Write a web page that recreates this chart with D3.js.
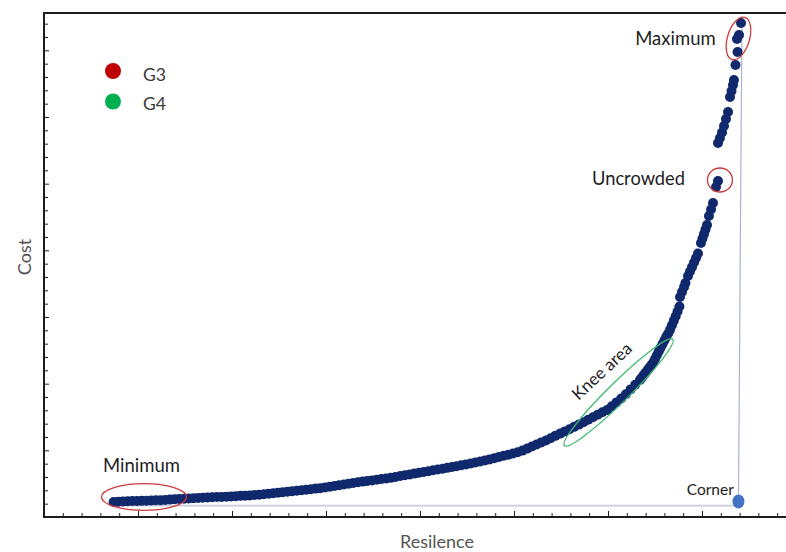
<!DOCTYPE html>
<html>
<head>
<meta charset="utf-8">
<script src="https://cdn.jsdelivr.net/npm/d3@7"></script>
<style>
  html, body { margin: 0; padding: 0; background: #ffffff; }
  svg { display: block; font-family: Lato, "Open Sans", sans-serif; }
</style>
</head>
<body>
<svg id="chart" width="786" height="552"></svg>
<script>
// Pareto front: resilience vs cost of each solution
const resilience = [
  0.74, 0.79, 0.84, 0.89, 0.94, 0.99, 1.04, 1.09, 1.14, 1.19, 1.24, 1.29, 1.34, 1.39, 1.44, 1.49,
  1.54, 1.59, 1.64, 1.69, 1.74, 1.79, 1.84, 1.89, 1.94, 1.99, 2.04, 2.09, 2.14, 2.19, 2.24, 2.29,
  2.34, 2.39, 2.44, 2.49, 2.54, 2.59, 2.64, 2.69, 2.74, 2.79, 2.84, 2.89, 2.94, 2.99, 3.04, 3.09,
  3.14, 3.19, 3.24, 3.29, 3.34, 3.39, 3.44, 3.49, 3.54, 3.59, 3.64, 3.69, 3.74, 3.79, 3.84, 3.89,
  3.94, 3.99, 4.04, 4.09, 4.14, 4.19, 4.24, 4.29, 4.34, 4.39, 4.44, 4.49, 4.54, 4.59, 4.64, 4.69,
  4.74, 4.79, 4.84, 4.89, 4.94, 4.99, 5.04, 5.09, 5.14, 5.19, 5.24, 5.29, 5.34, 5.39, 5.44, 5.49,
  5.54, 5.59, 5.64, 5.69, 5.74, 5.79, 5.84, 5.89, 5.94, 5.99, 6.04, 6.09, 6.14, 6.19, 6.24, 6.29,
  6.34, 6.36, 6.38, 6.40, 6.42, 6.44, 6.46, 6.48, 6.50, 6.52, 6.54, 6.56, 6.58, 6.60, 6.62, 6.64,
  6.66, 6.68, 6.70, 6.72, 6.74, 6.76,
  6.766, 6.787, 6.809, 6.824, 6.851, 6.872, 6.894, 6.915, 6.936, 6.957,
  6.989, 7.005, 7.021, 7.037, 7.053, 7.074, 7.096, 7.117, 7.149, 7.170,
  7.170, 7.191, 7.213, 7.234, 7.255, 7.277, 7.298, 7.314, 7.330, 7.340,
  7.356, 7.378, 7.372, 7.394, 7.415
];
const cost = [
  0.225, 0.230, 0.234, 0.236, 0.239, 0.240, 0.242, 0.245, 0.248, 0.251, 0.252, 0.255, 0.261, 0.266, 0.270, 0.275,
  0.279, 0.282, 0.285, 0.288, 0.293, 0.296, 0.299, 0.300, 0.305, 0.309, 0.312, 0.317, 0.320, 0.324, 0.329, 0.333,
  0.342, 0.348, 0.356, 0.363, 0.371, 0.380, 0.387, 0.395, 0.402, 0.410, 0.417, 0.426, 0.432, 0.443, 0.453, 0.465,
  0.476, 0.488, 0.500, 0.510, 0.521, 0.531, 0.540, 0.549, 0.558, 0.569, 0.578, 0.587, 0.600, 0.614, 0.626, 0.638,
  0.651, 0.663, 0.675, 0.687, 0.701, 0.713, 0.725, 0.737, 0.749, 0.762, 0.776, 0.789, 0.803, 0.818, 0.833, 0.848,
  0.864, 0.882, 0.900, 0.918, 0.935, 0.953, 0.971, 0.996, 1.026, 1.058, 1.088, 1.119, 1.148, 1.181, 1.217, 1.251,
  1.284, 1.317, 1.352, 1.386, 1.422, 1.458, 1.496, 1.533, 1.571, 1.605, 1.662, 1.719, 1.778, 1.842, 1.914, 1.985,
  2.055, 2.091, 2.129, 2.165, 2.202, 2.238, 2.276, 2.313, 2.370, 2.427, 2.483, 2.540, 2.595, 2.649, 2.702, 2.753,
  2.807, 2.876, 2.945, 3.012, 3.083, 3.158,
  3.300, 3.375, 3.450, 3.510, 3.615, 3.683, 3.750, 3.818, 3.885, 3.953,
  4.110, 4.178, 4.245, 4.313, 4.380, 4.515, 4.613, 4.710, 4.950, 5.040,
  5.610, 5.685, 5.768, 5.865, 5.970, 6.075, 6.300, 6.390, 6.480, 6.555,
  6.780, 6.975, 7.170, 7.230, 7.410
];

// Ideal (corner) point and the guide lines drawn from it
const cornerPoint = [7.388, 0.233];
const cornerVerticalEnd = [7.425, 7.45];
const cornerHorizontalStart = [0.72, 0.17];
const cornerHorizontalEnd = [7.36, 0.17];

// Legend entries
const legendLabels = ["G3", "G4"];
const legendColors = ["#c00000", "#00b050"];

// Axis extents and tick steps
const xDomain = [0, 8];
const yDomain = [0, 7.56];
const xMinorStep = 0.2;
const yMinorStep = 0.2;

const svg = d3.select("#chart");
const width = 786, height = 552;
const plot = { left: 44, right: 796, top: 13, bottom: 517 };

svg.append("rect").attr("width", width).attr("height", height).attr("fill", "#ffffff");

const x = d3.scaleLinear().domain(xDomain).range([plot.left, plot.right]);
const y = d3.scaleLinear().domain(yDomain).range([plot.bottom, plot.top]);

// Guide lines from the corner point
svg.append("line")
  .attr("x1", x(cornerHorizontalStart[0])).attr("y1", y(cornerHorizontalStart[1]))
  .attr("x2", x(cornerHorizontalEnd[0])).attr("y2", y(cornerHorizontalEnd[1]))
  .attr("stroke", "#c9ccdc").attr("stroke-width", 1.6);
svg.append("line")
  .attr("x1", x(cornerPoint[0])).attr("y1", y(cornerPoint[1]))
  .attr("x2", x(cornerVerticalEnd[0])).attr("y2", y(cornerVerticalEnd[1]))
  .attr("stroke", "#a9b3d3").attr("stroke-width", 1.2);

// Axes (ticks point into the plot, no labels)
const xTicks = d3.range(0, 41).map(i => i * xMinorStep);
const yTicks = d3.range(1, 38).map(i => i * yMinorStep);
const isMajor = v => Math.abs(v - Math.round(v)) < 1e-6;

const xAxis = svg.append("g").attr("transform", `translate(0,${plot.bottom})`)
  .call(d3.axisBottom(x).tickValues(xTicks).tickFormat("").tickSize(0));
xAxis.select(".domain").remove();
xAxis.selectAll(".tick line")
  .attr("y2", d => isMajor(d) ? -6 : -4)
  .attr("stroke", "#222").attr("stroke-width", 1);

const yAxis = svg.append("g").attr("transform", `translate(${plot.left},0)`)
  .call(d3.axisLeft(y).tickValues(yTicks).tickFormat("").tickSize(0));
yAxis.select(".domain").remove();
yAxis.selectAll(".tick line")
  .attr("x2", d => isMajor(d) ? 5 : 4)
  .attr("stroke", "#222").attr("stroke-width", 1);

// Frame: bottom axis, left axis and top border
svg.append("path")
  .attr("d", `M${width},${plot.top}H${plot.left}V${plot.bottom}H${width}`)
  .attr("fill", "none").attr("stroke", "#1c1c1c").attr("stroke-width", 2);

// Solutions on the front
const pts = resilience.map((r, i) => [r, cost[i]]);
svg.append("g").selectAll("circle").data(pts).join("circle")
  .attr("cx", d => x(d[0])).attr("cy", d => y(d[1]))
  .attr("r", 5).attr("fill", "#10296c");

// Corner point
svg.append("ellipse")
  .attr("cx", x(cornerPoint[0])).attr("cy", y(cornerPoint[1]))
  .attr("rx", 6).attr("ry", 7).attr("fill", "#4472c4");

// Highlighted regions
const red = "#cc3b3b", green = "#3dba70";
const marks = [
  { cx: 1.064, cy: 0.30, rx: 42.5, ry: 13.3, rot: 0, color: red },
  { cx: 7.388, cy: 7.178, rx: 11, ry: 22, rot: 17, color: red },
  { cx: 7.191, cy: 5.055, rx: 12.5, ry: 12, rot: 0, color: red },
  { cx: 6.112, cy: 1.868, rx: 76, ry: 10, rot: -44.5, color: green }
];
svg.append("g").selectAll("ellipse").data(marks).join("ellipse")
  .attr("transform", d => `translate(${x(d.cx)},${y(d.cy)}) rotate(${d.rot})`)
  .attr("rx", d => d.rx).attr("ry", d => d.ry)
  .attr("fill", "none").attr("stroke", d => d.color).attr("stroke-width", 1.3);

// Annotation labels
const notes = [
  { text: "Minimum", x: 0.628, y: 0.681, anchor: "start", size: 18.5, rot: 0 },
  { text: "Maximum", x: 7.146, y: 7.080, anchor: "end", size: 18.5, rot: 0 },
  { text: "Uncrowded", x: 6.819, y: 4.980, anchor: "end", size: 18.3, rot: 0 },
  { text: "Corner", x: 6.837, y: 0.330, anchor: "start", size: 15.5, rot: 0 },
  { text: "Knee area", x: 5.947, y: 2.170, anchor: "middle", size: 17, rot: -43 }
];
svg.append("g").selectAll("text").data(notes).join("text")
  .attr("transform", d => `translate(${x(d.x)},${y(d.y)}) rotate(${d.rot})`)
  .attr("text-anchor", d => d.anchor)
  .attr("dominant-baseline", d => d.rot ? "middle" : "alphabetic")
  .attr("font-size", d => d.size)
  .attr("fill", "#1e1e1e")
  .text(d => d.text);

// Legend
const legend = svg.append("g");
legendLabels.forEach((lab, i) => {
  legend.append("circle").attr("cx", 113).attr("cy", 71 + i * 30.5).attr("r", 8).attr("fill", legendColors[i]);
  legend.append("text").attr("x", 143).attr("y", 81 + i * 28.5)
    .attr("font-size", 17.5).attr("fill", "#3a3a3a").text(lab);
});

// Axis titles
svg.append("text").attr("x", 437).attr("y", 548).attr("text-anchor", "middle")
  .attr("font-size", 18).attr("fill", "#555555").text("Resilence");
svg.append("text").attr("transform", "translate(31,257) rotate(-90)").attr("text-anchor", "middle")
  .attr("font-size", 18).attr("fill", "#555555").text("Cost");
</script>
</body>
</html>
